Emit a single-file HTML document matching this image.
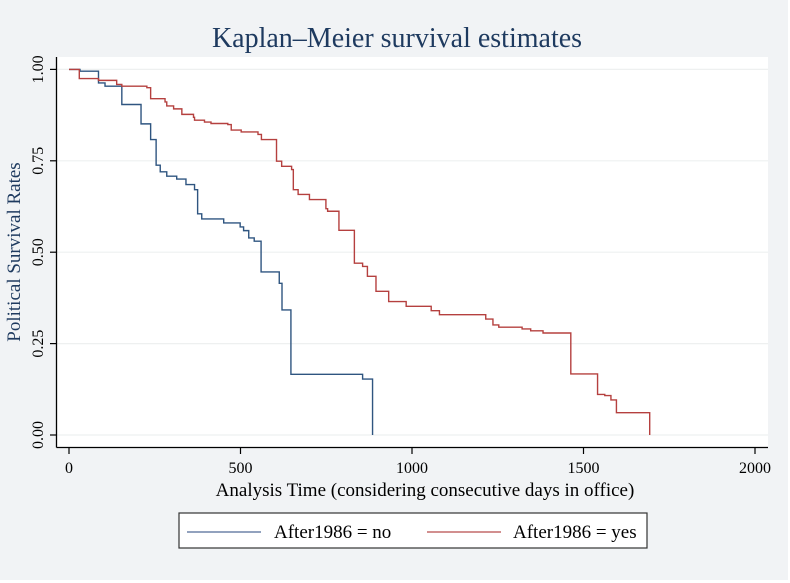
<!DOCTYPE html>
<html><head><meta charset="utf-8"><style>
html,body{margin:0;padding:0;background:#fff;}
svg{display:block;font-family:"Liberation Serif",serif;}
</style></head><body>
<svg id="chart" width="790" height="583" viewBox="0 0 790 583">
<rect x="0" y="0" width="788" height="580" fill="#f1f3f5"/>
<rect x="57" y="57" width="711" height="390" fill="#ffffff"/>
<text x="397" y="47" text-anchor="middle" font-size="28" fill="#1e3a5f">Kaplan–Meier survival estimates</text>
<g id="grid"></g>
<g id="series"></g>
<line x1="56.5" y1="57" x2="56.5" y2="447.5" stroke="#000" stroke-width="1.3"/>
<line x1="56.5" y1="447.5" x2="768" y2="447.5" stroke="#000" stroke-width="1.3"/>
<g id="yticks"></g>
<g id="xticks"></g>
<text transform="translate(20,252) rotate(-90)" text-anchor="middle" font-size="19" fill="#1e3a5f">Political Survival Rates</text>
<text x="425" y="496" text-anchor="middle" font-size="19" fill="#000">Analysis Time (considering consecutive days in office)</text>
<g>
<rect x="179" y="513" width="468" height="35" fill="#fff" stroke="#333" stroke-width="1.2"/>
<line x1="187" y1="532" x2="261" y2="532" stroke="#6f84a8" stroke-width="1.5"/>
<text x="274" y="538" font-size="19">After1986 = no</text>
<line x1="427" y1="532" x2="501" y2="532" stroke="#c46a6a" stroke-width="1.5"/>
<text x="513" y="538" font-size="19">After1986 = yes</text>
</g>
</svg>
<script>
const yTickValues=[0,0.25,0.5,0.75,1];
const yTickLabels=["0.00","0.25","0.50","0.75","1.00"];
const xTickValues=[0,500,1000,1500,2000];
const xTickLabels=["0","500","1000","1500","2000"];
const noTimes=[0,32,86,105,154,210,238,254,266,285,314,341,366,375,387,451,499,509,524,540,560,613,621,647,856,885];
const noSurv=[1,0.995,0.963,0.954,0.904,0.851,0.808,0.738,0.72,0.708,0.70,0.685,0.671,0.605,0.591,0.58,0.569,0.559,0.539,0.53,0.446,0.415,0.342,0.166,0.153,0];
const yesTimes=[0,30,86,139,154,227,238,280,285,305,329,363,366,395,414,463,473,502,551,561,605,620,649,654,668,701,749,754,787,832,832,856,870,895,932,983,1056,1080,1215,1236,1253,1321,1346,1382,1463,1541,1562,1580,1596,1693];
const yesSurv=[1,0.975,0.970,0.959,0.954,0.950,0.920,0.911,0.90,0.892,0.877,0.869,0.861,0.856,0.852,0.849,0.834,0.829,0.822,0.808,0.749,0.735,0.726,0.671,0.658,0.644,0.619,0.612,0.560,0.551,0.470,0.461,0.434,0.393,0.365,0.352,0.340,0.329,0.317,0.301,0.295,0.290,0.285,0.279,0.167,0.111,0.108,0.096,0.061,0];
const NS="http://www.w3.org/2000/svg";
function xs(t){return 69+t*0.343;}
function ys(v){return 435-v*365.6;}
function mk(tag,attrs,parent){const e=document.createElementNS(NS,tag);for(const k in attrs)e.setAttribute(k,attrs[k]);parent.appendChild(e);return e;}
const grid=document.getElementById('grid'),yt=document.getElementById('yticks'),xt=document.getElementById('xticks'),ser=document.getElementById('series');
yTickValues.forEach((v,i)=>{
  const g=mk('line',{x1:57,x2:768,y1:ys(v),y2:ys(v),stroke:'#eef0f0','stroke-width':1.2},grid);
  
  
  const t=mk('line',{x1:50,x2:56.5,y1:ys(v),y2:ys(v),stroke:'#000','stroke-width':1.2},yt);
  
  
  const l=mk('text',{transform:'translate(43,'+ys(v)+') rotate(-90)','text-anchor':'middle','font-size':16},yt);
  l.textContent=yTickLabels[i];
  
  
});
xTickValues.forEach((v,i)=>{
  const t=mk('line',{x1:xs(v),x2:xs(v),y1:447.5,y2:454,stroke:'#000','stroke-width':1.2},xt);
  
  
  const l=mk('text',{x:xs(v),y:473,'text-anchor':'middle','font-size':16},xt);
  l.textContent=xTickLabels[i];
  
  
});
function stepPath(T,S){let d='M'+xs(T[0])+','+ys(S[0]);for(let i=1;i<T.length;i++){d+=' H'+xs(T[i])+' V'+ys(S[i]);}return d;}
const p1=mk('path',{d:stepPath(noTimes,noSurv),fill:'none',stroke:'#2f5580','stroke-width':1.4},ser);


const p2=mk('path',{d:stepPath(yesTimes,yesSurv),fill:'none',stroke:'#b5403f','stroke-width':1.4},ser);


</script>
</body></html>
